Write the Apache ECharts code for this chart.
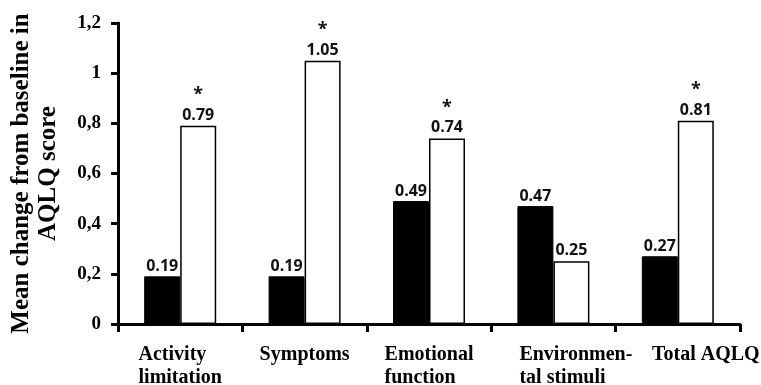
<!DOCTYPE html>
<html>
<head>
<meta charset="utf-8">
<script src="https://cdn.jsdelivr.net/npm/echarts@6/dist/echarts.min.js"></script>
<style>html,body{margin:0;padding:0;background:#fff;}#c{width:761px;height:385px;}</style>
</head>
<body>
<div id="c"></div>
<script>
var categories = ['Activity\nlimitation', 'Symptoms', 'Emotional\nfunction', 'Environmen-\ntal stimuli', 'Total AQLQ'];
var blackValues = [0.19, 0.19, 0.49, 0.47, 0.27];
var whiteValues = [0.79, 1.05, 0.74, 0.25, 0.81];
var significant = [true, true, true, false, true];
var yTicks = { min: 0, max: 1.2, interval: 0.2 };
var yTitle = 'Mean change from baseline in\nAQLQ score';

var labelPad = [0, 0, 0, 45, 56];
var rich = {};
labelPad.forEach(function (p, i) {
  rich['r' + i] = { align: 'left', padding: [0, 0, 0, p], fontFamily: 'Liberation Serif', fontWeight: 'bold', fontSize: 20, lineHeight: 23, color: '#000' };
});

var chart = echarts.init(document.getElementById('c'), null, { renderer: 'canvas' });
chart.setOption({
  animation: false,
  backgroundColor: '#fff',
  grid: { left: 118, right: 21, top: 23, bottom: 61, containLabel: false, outerBoundsMode: 'none' },
  xAxis: {
    type: 'category',
    data: categories,
    axisLine: { lineStyle: { color: '#000', width: 3 } },
    axisTick: { show: true, length: 8, lineStyle: { color: '#000', width: 3 } },
    axisLabel: {
      margin: 19,
      interval: 0,
      formatter: function (v, i) {
        return v.split('\n').map(function (l) { return '{r' + i + '|' + l + '}'; }).join('\n');
      },
      rich: rich
    }
  },
  yAxis: {
    type: 'value',
    min: yTicks.min, max: yTicks.max, interval: yTicks.interval,
    name: yTitle,
    nameLocation: 'middle',
    nameRotate: 90,
    nameGap: 56,
    nameTextStyle: { fontFamily: 'Liberation Serif', fontWeight: 'bold', fontSize: 25, lineHeight: 27, color: '#000', align: 'center' },
    splitLine: { show: false },
    axisLine: { show: true, lineStyle: { color: '#000', width: 3 } },
    axisTick: { show: true, length: 7, lineStyle: { color: '#000', width: 3 } },
    axisLabel: {
      margin: 17,
      fontFamily: 'Liberation Serif', fontWeight: 'bold', fontSize: 19, color: '#000',
      formatter: function (v) { return String(Math.round(v * 10) / 10).replace('.', ','); }
    }
  },
  series: [
    {
      type: 'bar',
      data: blackValues,
      barWidth: 36,
      barGap: '0%',
      itemStyle: { color: '#000', borderColor: '#000', borderWidth: 1 },
      label: {
        show: true, position: 'top', distance: 2,
        formatter: function (p) { return p.value.toFixed(2); },
        fontFamily: 'Open Sans', fontWeight: 'bold', fontSize: 16, color: '#111'
      }
    },
    {
      type: 'bar',
      data: whiteValues,
      barWidth: 36,
      itemStyle: { color: '#fff', borderColor: '#000', borderWidth: 1.5 },
      label: {
        show: true, position: 'top', distance: 1,
        formatter: function (p) {
          var t = '{v|' + p.value.toFixed(2) + '}';
          return significant[p.dataIndex] ? '{s|*}\n' + t : t;
        },
        rich: {
          v: { fontFamily: 'Open Sans', fontWeight: 'bold', fontSize: 16, lineHeight: 19, color: '#111' },
          s: { fontFamily: 'Open Sans', fontWeight: 'bold', fontSize: 18, lineHeight: 21, color: '#111' }
        }
      }
    }
  ]
});
</script>
</body>
</html>
